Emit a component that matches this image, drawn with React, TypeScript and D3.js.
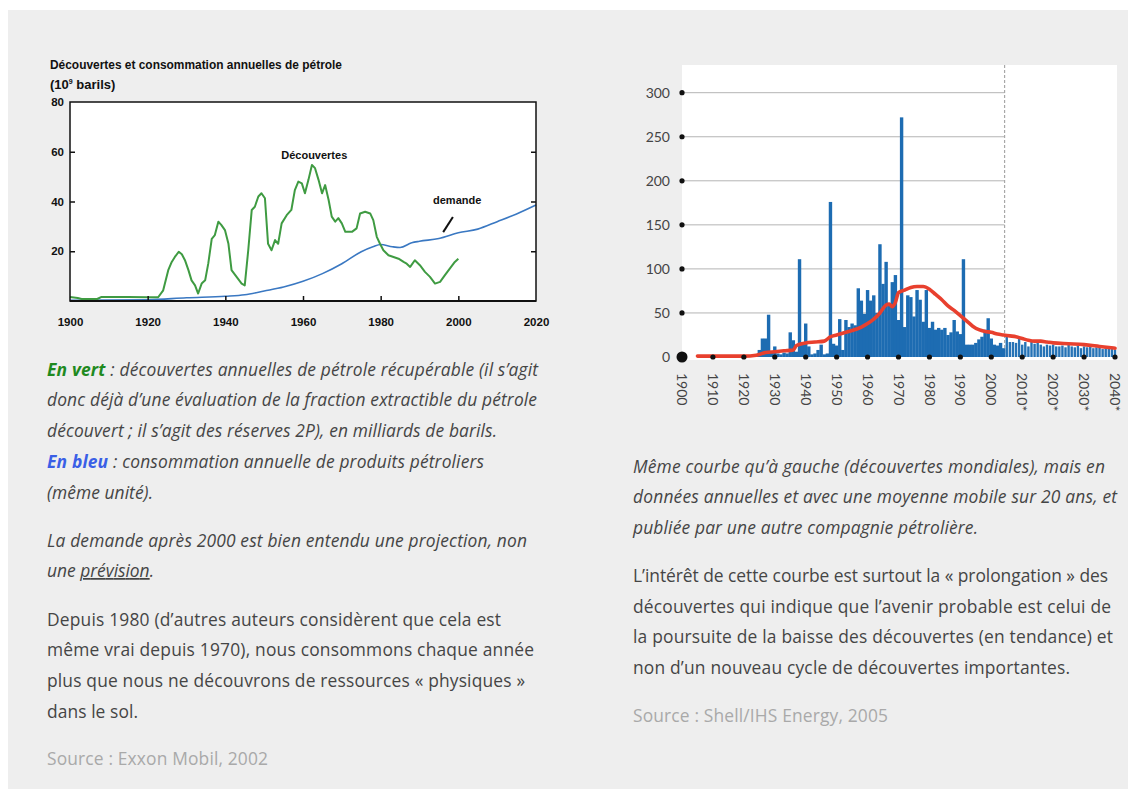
import React, { useEffect, useRef } from "react";
import * as d3 from "d3";

const W = 1128;
const H = 789;

// --- graphique de gauche (Exxon Mobil) ---
const leftYTicks = [20, 40, 60, 80];
const leftXTicks = [1900, 1920, 1940, 1960, 1980, 2000, 2020];

// découvertes annuelles (milliards de barils) : [année, valeur]
const decouvertes: [number, number][] = [
  [1900, 1.6], [1902, 1.2], [1903, 0.8], [1907, 0.8], [1908, 1.6], [1915, 1.6], [1920, 1.5],
  [1922.7, 1.5], [1924, 4.3], [1925.3, 12.4], [1926.2, 15.7], [1927, 17.7], [1928, 19.8],
  [1928.8, 18.8], [1929.6, 16.4], [1930.5, 12.4], [1931.3, 8.3], [1932.2, 6.3], [1933, 3],
  [1933.9, 7], [1934.8, 8.3], [1935.6, 15], [1936.5, 25], [1937.3, 26.5], [1938.2, 31.9],
  [1939, 30.5], [1939.9, 28.5], [1940.8, 23], [1941.6, 12.4], [1942.9, 9.7], [1944.2, 7],
  [1945, 6.3], [1945.9, 20.4], [1946.8, 36.6], [1947.6, 37.9], [1948.5, 42], [1949.3, 43.3],
  [1950.2, 41.3], [1951, 23], [1951.9, 20.4], [1952.8, 24.5], [1953.6, 23], [1954.5, 31.2],
  [1955.8, 34.5], [1957, 36.6], [1957.9, 44.6], [1958.8, 48], [1959.7, 47.3], [1960.5, 43.3],
  [1961.4, 48.7], [1962.3, 54.7], [1963.1, 53.4], [1964, 48.7], [1964.9, 43.3], [1965.7, 46.6],
  [1966.6, 40.6], [1967.4, 33.9], [1968.3, 31.9], [1969.1, 33.3], [1970, 31.2], [1970.9, 27.8],
  [1972.6, 27.8], [1973.8, 29.2], [1974.7, 35.2], [1976, 35.9], [1977.3, 35.2], [1978.1, 32.5],
  [1979, 25.8], [1979.8, 23.1], [1980.7, 20.4], [1982, 18.4], [1983.3, 17.7], [1984.6, 17],
  [1985.9, 15.7], [1986.7, 15], [1987.6, 13.7], [1988.8, 16.4], [1990.1, 14.4], [1991.4, 11.7],
  [1992.7, 9.7], [1994, 7], [1995.3, 7.7], [1996.5, 10.3], [1997.8, 13], [1999.1, 15.7], [2000, 17],
];

// demande (consommation annuelle)
const demande: [number, number][] = [
  [1900, 0.3], [1920, 0.5], [1930, 1.3], [1940, 1.9], [1945, 2.5], [1950, 4], [1955, 5.6],
  [1960, 7.9], [1965, 11], [1970, 15], [1975, 19.8], [1978, 21.8], [1980, 22.7], [1983, 21.8],
  [1985, 21.5], [1988, 23.4], [1990, 24], [1995, 25.1], [2000, 27.4], [2005, 28.9], [2010, 31.9],
  [2015, 35], [2020, 38.6],
];

// --- graphique de droite (Shell/IHS) ---
const barYears = d3.range(1900, 2041);
const barValues = [
  0, 0, 0, 0, 0, 0, 0, 0, 0, 0, 0, 0, 0, 0, 0, 0, 0, 0, 0, 0, 0, 0, 0,
  0, 2, 8, 21, 21, 48, 6, 12, 4, 3, 5, 4, 28, 19, 6, 111, 15, 38,
  12, 3, 4, 8, 14, 3, 4, 176, 15, 13, 43, 8, 42, 34, 38, 36, 78, 64, 49, 76,
  64, 70, 50, 128, 83, 108, 60, 85, 93, 42, 272, 34, 70, 68, 46, 76, 65, 40, 76, 33,
  40, 31, 33, 31, 33, 25, 28, 42, 29, 26, 111, 14, 14, 14, 16, 20, 23, 31, 44, 21,
  14, 13, 16, 10, 23, 17, 17, 16, 21, 14, 17, 12, 17, 15, 16, 14, 12, 14, 13, 14,
  12, 12, 13, 11, 14, 12, 11, 13, 10, 12, 11, 13, 10, 11, 12, 9, 10, 11, 9, 8,
];

// moyenne mobile sur 20 ans
const moyenneMobile: [number, number][] = [
  [1905, 1], [1910, 1], [1915, 1], [1920, 1], [1924, 2], [1927, 5], [1930, 6], [1933, 7],
  [1936, 8], [1937, 13], [1940, 16], [1943, 17], [1946, 18], [1948, 23], [1950, 25], [1953, 28],
  [1955, 30], [1958, 34], [1960, 38], [1962, 43], [1964, 50], [1966, 59], [1967, 60], [1968, 57],
  [1969, 62], [1970, 73], [1972, 76], [1974, 79], [1976, 80], [1978, 80], [1980, 77],
  [1982, 71], [1984, 65], [1986, 58], [1988, 53], [1990, 47], [1992, 41], [1994, 35], [1996, 31],
  [1998, 29], [2000, 28], [2002, 26], [2004, 25], [2006, 24], [2008, 23], [2010, 21], [2012, 19],
  [2014, 18], [2016, 18], [2018, 17], [2020, 16], [2025, 15], [2030, 14], [2035, 12], [2040, 10],
];

const rightYTicks = [0, 50, 100, 150, 200, 250, 300];
const rightXTicks = [1900, 1910, 1920, 1930, 1940, 1950, 1960, 1970, 1980, 1990, 2000, 2010, 2020, 2030, 2040];
const rightXLabels = ["1900", "1910", "1920", "1930", "1940", "1950", "1960", "1970", "1980", "1990", "2000", "2010*", "2020*", "2030*", "2040*"];
const projectionStart = 2004.3;

const TXT = "#454545";
const FONT = "'Open Sans', sans-serif";

export default function App() {
  const leftRef = useRef<SVGGElement>(null);
  const rightRef = useRef<SVGGElement>(null);

  useEffect(() => {
    // ---------- gauche ----------
    const g = d3.select(leftRef.current);
    g.selectAll("*").remove();
    const x = d3.scaleLinear().domain([1900, 2020]).range([70, 536]);
    const y = d3.scaleLinear().domain([0, 80]).range([301, 102]);

    g.append("rect")
      .attr("x", 70).attr("y", 102).attr("width", 466).attr("height", 199)
      .attr("fill", "#fff");

    g.append("path").datum(demande)
      .attr("d", d3.line<[number, number]>().x((d) => x(d[0])).y((d) => y(d[1])).curve(d3.curveMonotoneX))
      .attr("fill", "none").attr("stroke", "#3a78c2").attr("stroke-width", 1.6);
    g.append("path").datum(decouvertes)
      .attr("d", d3.line<[number, number]>().x((d) => x(d[0])).y((d) => y(d[1])))
      .attr("fill", "none").attr("stroke", "#3f9b42").attr("stroke-width", 2)
      .attr("stroke-linejoin", "round");

    g.append("rect")
      .attr("x", 70).attr("y", 102).attr("width", 466).attr("height", 199)
      .attr("fill", "none").attr("stroke", "#111").attr("stroke-width", 1.5);
    g.append("line").attr("x1", 70).attr("x2", 536).attr("y1", 301).attr("y2", 301)
      .attr("stroke", "#111").attr("stroke-width", 2.2);

    const styleAxis = (a: any) => {
      a.select(".domain").remove();
      a.selectAll(".tick line").attr("stroke", "#111").attr("stroke-width", 1.5);
      a.attr("font-family", "'Liberation Sans', Arial, sans-serif")
        .attr("font-size", 11.5).attr("font-weight", "bold");
      a.selectAll("text").attr("fill", "#111");
    };

    g.append("g").attr("transform", "translate(70,0)")
      .call(d3.axisLeft(y).tickValues(leftYTicks).tickSize(-5).tickPadding(6))
      .call(styleAxis);
    g.append("g").attr("transform", "translate(536,0)")
      .call(d3.axisRight(y).tickValues([20, 40, 60]).tickSize(-5).tickFormat(() => ""))
      .call(styleAxis);
    g.append("g").attr("transform", "translate(0,301)")
      .call(d3.axisBottom(x).tickValues(leftXTicks).tickSize(-5).tickPadding(17).tickFormat(d3.format("d")))
      .call(styleAxis);
    g.selectAll(".tick").filter((d: any) => d === 1900 || d === 2020 || d === 80).select("line").remove();

    g.append("text")
      .attr("x", x(1962.9)).attr("y", y(58.7)).attr("dy", "0.35em")
      .attr("text-anchor", "middle").attr("font-family", "'Liberation Sans', Arial, sans-serif")
      .attr("font-size", 11).attr("font-weight", "bold").attr("fill", "#111")
      .text("Découvertes");
    g.append("text")
      .attr("x", x(1999.7)).attr("y", y(40.6)).attr("dy", "0.35em")
      .attr("text-anchor", "middle").attr("font-family", "'Liberation Sans', Arial, sans-serif")
      .attr("font-size", 11).attr("font-weight", "bold").attr("fill", "#111")
      .text("demande");
    g.append("line")
      .attr("x1", x(1998.6)).attr("y1", y(33.8)).attr("x2", x(1996.1)).attr("y2", y(27.7))
      .attr("stroke", "#111").attr("stroke-width", 2);

    // ---------- droite ----------
    const r = d3.select(rightRef.current);
    r.selectAll("*").remove();
    const xr = d3.scaleLinear().domain([1900, 2040]).range([682, 1115]);
    const yr = d3.scaleLinear().domain([0, 300]).range([357, 92.7]);

    r.append("rect").attr("x", 682).attr("y", 65).attr("width", 435).attr("height", 295)
      .attr("fill", "#fff");

    r.append("g").selectAll("line")
      .data(rightYTicks.filter((d) => d > 0))
      .join("line")
      .attr("x1", 682).attr("x2", xr(projectionStart))
      .attr("y1", (d) => yr(d)).attr("y2", (d) => yr(d))
      .attr("stroke", "#b4b4b4").attr("stroke-width", 1);

    r.append("line")
      .attr("x1", xr(projectionStart)).attr("x2", xr(projectionStart))
      .attr("y1", 65).attr("y2", 357)
      .attr("stroke", "#a8a8a8").attr("stroke-width", 1.2).attr("stroke-dasharray", "3,2");

    const bars = barYears.map((yr0, i) => ({ year: yr0, value: barValues[i] }));
    r.append("g").selectAll("rect")
      .data(bars.filter((d) => d.value > 0))
      .join("rect")
      .attr("x", (d) => xr(d.year) - (d.year > 2004 ? 1.2 : 1.7))
      .attr("width", (d) => (d.year > 2004 ? 2.4 : 3.4))
      .attr("y", (d) => yr(d.value))
      .attr("height", (d) => yr(0) - yr(d.value))
      .attr("fill", (d) => (d.year > 2004 ? "#2673b6" : "#1d6cb2"));

    r.append("path").datum(moyenneMobile)
      .attr("d", d3.line<[number, number]>().x((d) => xr(d[0])).y((d) => yr(d[1])).curve(d3.curveMonotoneX))
      .attr("fill", "none").attr("stroke", "#e8402e").attr("stroke-width", 3.6)
      .attr("stroke-linecap", "round").attr("stroke-linejoin", "round");

    r.append("g").selectAll("circle")
      .data(rightYTicks.filter((d) => d > 0))
      .join("circle")
      .attr("cx", 682).attr("cy", (d) => yr(d)).attr("r", 2.6).attr("fill", "#111");
    r.append("g").selectAll("circle")
      .data(rightXTicks.filter((d) => d > 1900))
      .join("circle")
      .attr("cx", (d) => xr(d)).attr("cy", yr(0)).attr("r", 2.6).attr("fill", "#111");
    r.append("circle").attr("cx", xr(1900)).attr("cy", yr(0)).attr("r", 5.5).attr("fill", "#111");

    r.append("g").selectAll("text")
      .data(rightYTicks)
      .join("text")
      .attr("x", 670).attr("y", (d) => yr(d)).attr("dy", "0.35em")
      .attr("text-anchor", "end").attr("font-family", "Lato, sans-serif").attr("font-size", 14)
      .attr("fill", "#444").text((d) => String(d));

    r.append("g").selectAll("text")
      .data(rightXTicks)
      .join("text")
      .attr("transform", (d) => `translate(${xr(d)},373) rotate(90)`)
      .attr("dy", "0.35em")
      .attr("font-family", "Lato, sans-serif").attr("font-size", 14)
      .attr("fill", "#444").text((d, i) => rightXLabels[i]);
  }, []);

  const para = (x: number, y: number, end: number, italic: boolean, content: React.ReactNode, fill = TXT) => (
    <text x={x} y={y} fontFamily={FONT} fontSize={17.4} fontStyle={italic ? "italic" : "normal"} fill={fill}
      textLength={end - x} lengthAdjust="spacing">
      {content}
    </text>
  );

  return (
    <div style={{ position: "absolute", left: 0, top: 0 }}>
      <svg width={W} height={H} style={{ display: "block" }}>
        <rect x={0} y={0} width={W} height={H} fill="#fff" />
        <rect x={8} y={10} width={W - 8} height={H - 10} fill="#eeeeee" />

        <text x={50} y={69} fontFamily="'Liberation Sans Narrow', 'Liberation Sans', Arial, sans-serif"
          fontSize={13} fontWeight="bold" fill="#111" textLength={292} lengthAdjust="spacingAndGlyphs">
          Découvertes et consommation annuelles de pétrole
        </text>
        <text x={50} y={89} fontFamily="'Liberation Sans Narrow', 'Liberation Sans', Arial, sans-serif"
          fontSize={13} fontWeight="bold" fill="#111">
          (10<tspan fontSize={7} dy={-5}>9</tspan><tspan dy={5}> barils)</tspan>
        </text>

        <g ref={leftRef} />
        <g ref={rightRef} />

        {para(47, 376, 538, true, <>
          <tspan fontWeight="bold" fill="#1f8a1f">En vert</tspan> : découvertes annuelles de pétrole récupérable (il s’agit
        </>)}
        {para(47, 406, 537, true, "donc déjà d’une évaluation de la fraction extractible du pétrole")}
        {para(47, 437, 497, true, "découvert ; il s’agit des réserves 2P), en milliards de barils.")}
        {para(47, 467.5, 484, true, <>
          <tspan fontWeight="bold" fill="#3a5fe6">En bleu</tspan> : consommation annuelle de produits pétroliers
        </>)}
        {para(47, 498.5, 153, true, "(même unité).")}
        {para(47, 547, 527, true, "La demande après 2000 est bien entendu une projection, non")}
        {para(47, 577, 154, true, <>
          une <tspan textDecoration="underline">prévision</tspan>.
        </>)}
        {para(47, 626, 501, false, "Depuis 1980 (d’autres auteurs considèrent que cela est")}
        {para(47, 656, 534, false, "même vrai depuis 1970), nous consommons chaque année")}
        {para(47, 686.5, 525, false, "plus que nous ne découvrons de ressources « physiques »")}
        {para(47, 717.5, 138, false, "dans le sol.")}
        {para(47, 765, 268, false, "Source : Exxon Mobil, 2002", "#a9a9a9")}

        {para(633, 473, 1105, true, "Même courbe qu’à gauche (découvertes mondiales), mais en")}
        {para(633, 503, 1117, true, "données annuelles et avec une moyenne mobile sur 20 ans, et")}
        {para(633, 534, 978, true, "publiée par une autre compagnie pétrolière.")}
        {para(633, 582, 1108, false, "L’intérêt de cette courbe est surtout la « prolongation » des")}
        {para(633, 613, 1111, false, "découvertes qui indique que l’avenir probable est celui de")}
        {para(633, 643, 1113, false, "la poursuite de la baisse des découvertes (en tendance) et")}
        {para(633, 674, 1070, false, "non d’un nouveau cycle de découvertes importantes.")}
        {para(633, 721.5, 888, false, "Source : Shell/IHS Energy, 2005", "#a9a9a9")}
      </svg>
    </div>
  );
}
